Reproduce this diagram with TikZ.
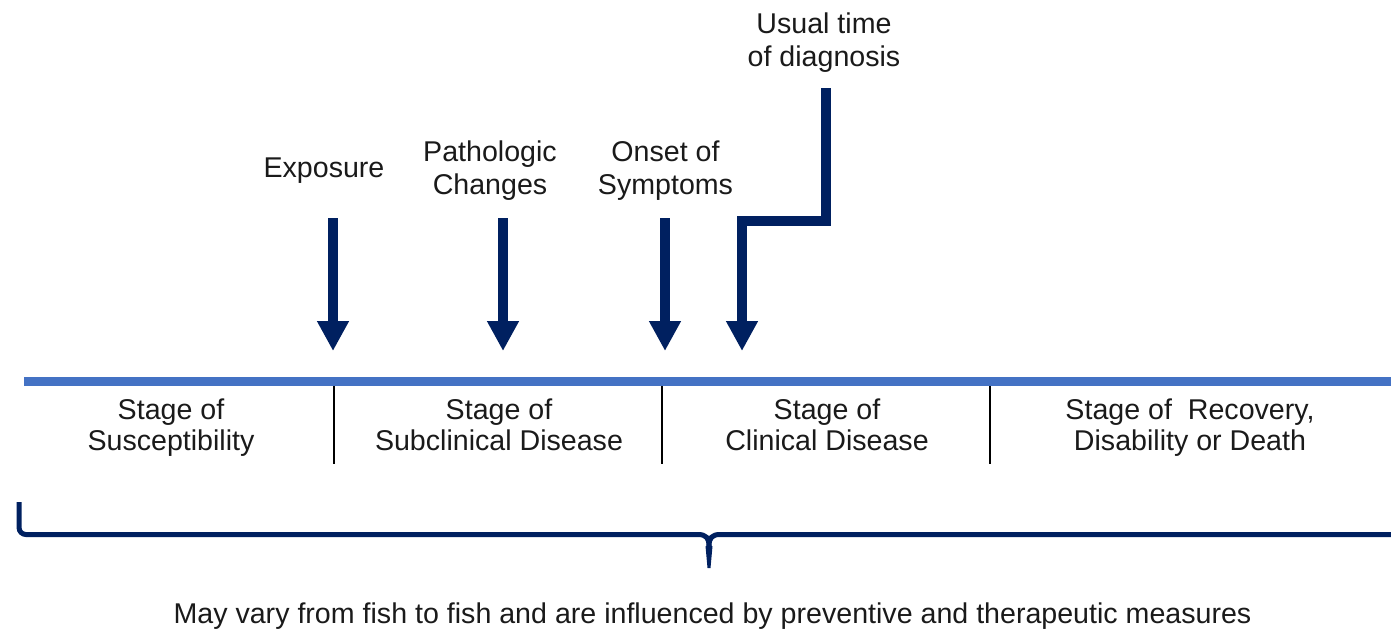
\documentclass[tikz,border=0pt]{standalone}
\usepackage{fontspec}
\setmainfont{Liberation Sans}
\usetikzlibrary{arrows.meta}
\definecolor{navy}{HTML}{002060}
\definecolor{barblue}{HTML}{4472C4}
\definecolor{txt}{HTML}{1A1A1A}
\begin{document}
\begin{tikzpicture}[x=1pt,y=-1pt,
  lbl/.style={align=center,text=txt,font=\fontsize{28.6}{30}\selectfont,inner sep=0pt},
  stagelbl/.style={lbl,font=\fontsize{28.6}{31}\selectfont},
  eventlbl/.style={lbl,font=\fontsize{28.6}{33}\selectfont},
  evarrow/.style={draw=navy,line width=10pt,-{Triangle[width=30pt,length=30pt]},color=navy},
  tick/.style={draw=black,line width=1.1pt},
  bracestyle/.style={draw=navy,line width=5pt}]
\useasboundingbox (0,0) rectangle (1391,633);
% timeline bar
\coordinate (barL) at (24,381.5);
\coordinate (barR) at (1391,381.5);
\draw[barblue,line width=9pt] (barL) -- (barR);
% ticks
\foreach \n/\x in {t1/334,t2/662,t3/990}{
  \coordinate (\n a) at (\x,386);
  \coordinate (\n b) at (\x,464);
  \draw[tick] (\n a) -- (\n b);
}
% stage labels
\node[stagelbl] (s1) at (171,428.3) {\strut Stage of\\\strut Susceptibility};
\node[stagelbl] (s2) at (499,428.3) {\strut Stage of\\\strut Subclinical Disease};
\node[stagelbl] (s3) at (827,428.3) {\strut Stage of\\\strut Clinical Disease};
\node[stagelbl] (s4) at (1190,428.3) {\strut Stage of\ \ Recovery,\\\strut Disability or Death};
% event labels
\node[eventlbl] (exp) at (324,170.4) {\strut Exposure};
\node[eventlbl] (path) at (490,171.6) {\strut Pathologic\\\strut Changes};
\node[eventlbl] (ons) at (665.5,171.6) {\strut Onset of\\\strut Symptoms};
\node[eventlbl] (diag) at (824,43.2) {\strut Usual time\\\strut of diagnosis};
% arrows
\coordinate (e1) at (333,218); \coordinate (e2) at (333,351);
\coordinate (p1) at (503,218); \coordinate (p2) at (503,351);
\coordinate (o1) at (665,218); \coordinate (o2) at (665,351);
\coordinate (d0) at (826,88); \coordinate (dc1) at (826,221);
\coordinate (dc2) at (742,221); \coordinate (d2) at (742,351);
\draw[evarrow] (e1) -- (e2);
\draw[evarrow] (p1) -- (p2);
\draw[evarrow] (o1) -- (o2);
\draw[evarrow,line join=miter] (d0) -- (dc1) -- (dc2) -- (d2);
% brace
\coordinate (bl) at (19,502);
\coordinate (bm) at (709,567);
\coordinate (br) at (1395,534.5);
\draw[bracestyle] (bl) -- (19,527.5) arc[start angle=180,end angle=90,radius=7] -- (698,534.5)
  .. controls (706,534.5) and (709,538) .. (709,546);
\draw[bracestyle] (br) -- (720,534.5)
  .. controls (712,534.5) and (709,538) .. (709,546);
\fill[navy] (705.5,546) -- (712.5,546) -- (710.5,568) -- (707.5,568) -- cycle;
% bottom text
\node[lbl] (note) at (712.5,617) {\strut May vary from fish to fish and are influenced by preventive and therapeutic measures};
\end{tikzpicture}
\end{document}
